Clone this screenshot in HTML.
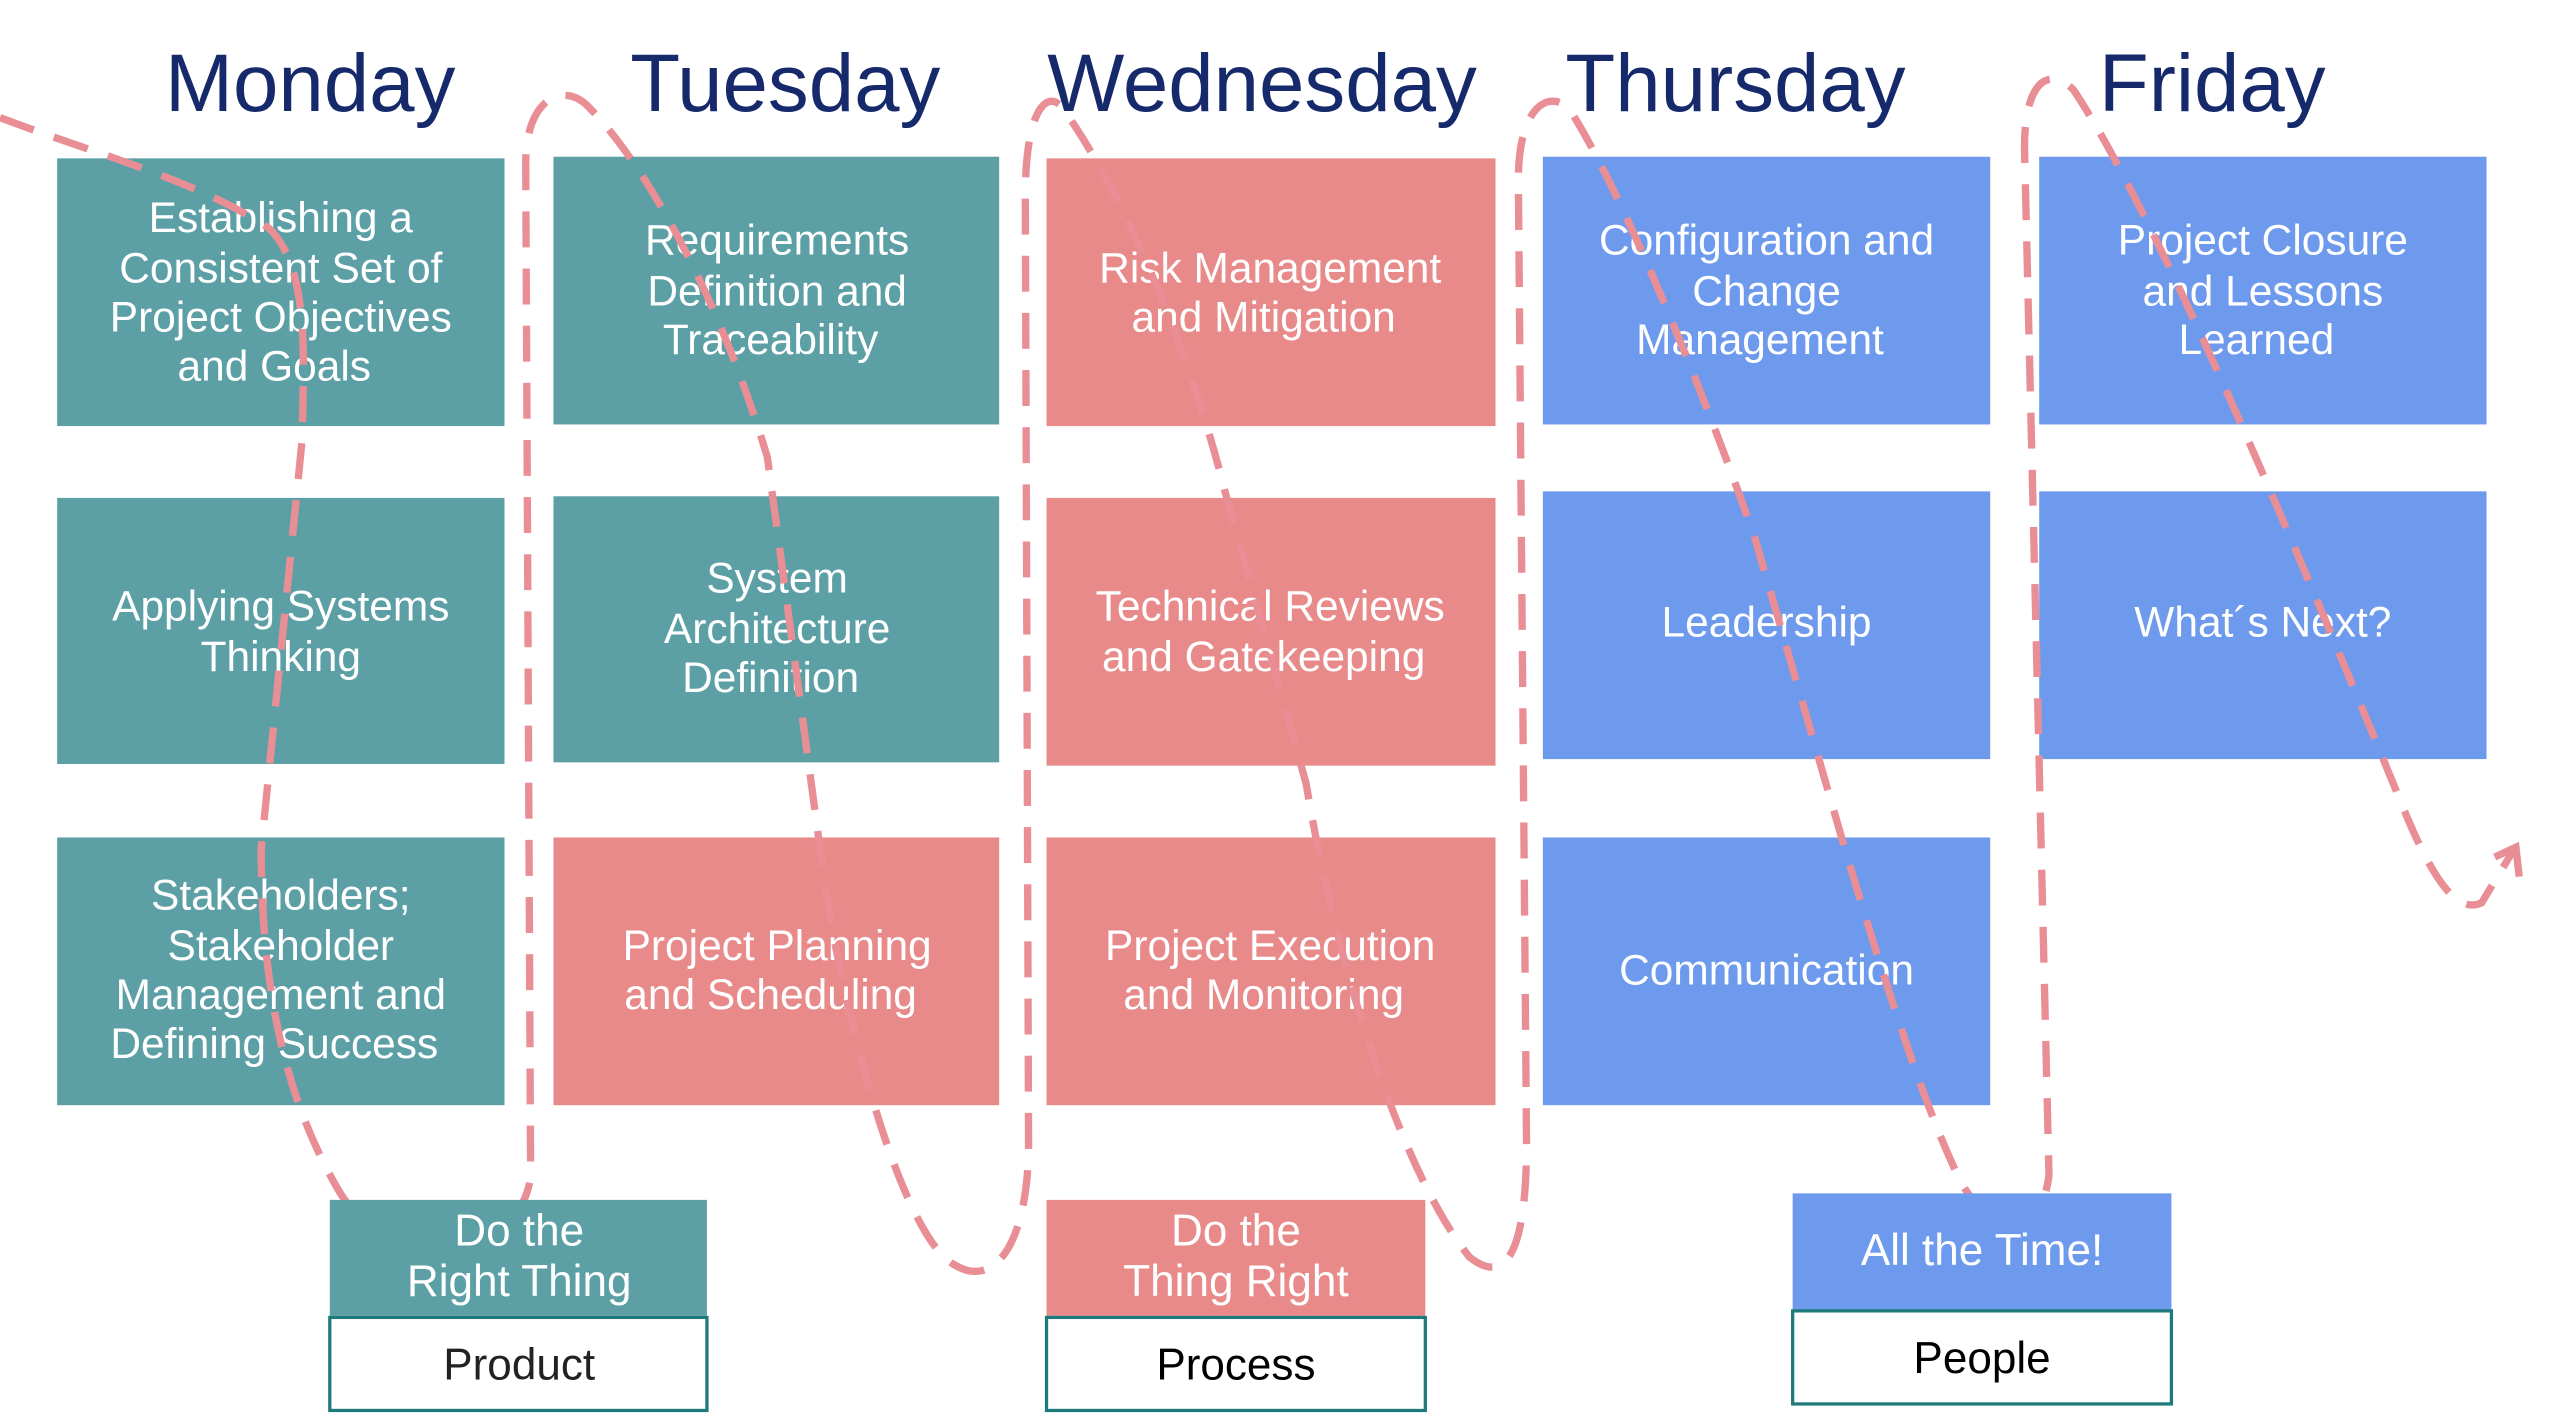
<!DOCTYPE html>
<html><head><meta charset="utf-8"><style>
html,body{margin:0;padding:0;background:#fff;}
svg{display:block;}
text{font-family:"Liberation Sans",sans-serif;}
</style></head><body>
<svg width="2560" height="1417" viewBox="0 0 1568 868" preserveAspectRatio="none" xmlns="http://www.w3.org/2000/svg">
<rect width="1568" height="868" fill="#fff"/>
<g font-size="50" fill="#16296b" text-anchor="middle">
<text x="190" y="68">Monday</text>
<text x="481" y="68">Tuesday</text>
<text x="773" y="68">Wednesday</text>
<text x="1063" y="68">Thursday</text>
<text x="1355" y="68">Friday</text>
</g>
<g>
<rect x="35" y="97" width="274" height="164" fill="#5ca0a6"/>
<rect x="35" y="305" width="274" height="163" fill="#5ca0a6"/>
<rect x="35" y="513" width="274" height="164" fill="#5ca0a6"/>
<rect x="339" y="96" width="273" height="164" fill="#5ca0a6"/>
<rect x="339" y="304" width="273" height="163" fill="#5ca0a6"/>
<rect x="339" y="513" width="273" height="164" fill="#e88a8a"/>
<rect x="641" y="97" width="275" height="164" fill="#e88a8a"/>
<rect x="641" y="305" width="275" height="164" fill="#e88a8a"/>
<rect x="641" y="513" width="275" height="164" fill="#e88a8a"/>
<rect x="945" y="96" width="274" height="164" fill="#6d9aed"/>
<rect x="945" y="301" width="274" height="164" fill="#6d9aed"/>
<rect x="945" y="513" width="274" height="164" fill="#6d9aed"/>
<rect x="1249" y="96" width="274" height="164" fill="#6d9aed"/>
<rect x="1249" y="301" width="274" height="164" fill="#6d9aed"/>
</g>
<g font-size="26" fill="#fff" text-anchor="middle">
<text x="172" y="142">Establishing a</text>
<text x="172" y="173">Consistent Set of</text>
<text x="172" y="203">Project Objectives</text>
<text x="168" y="233">and Goals</text>
<text x="172" y="380">Applying Systems</text>
<text x="172" y="411">Thinking</text>
<text x="172" y="557">Stakeholders;</text>
<text x="172" y="588">Stakeholder</text>
<text x="172" y="618">Management and</text>
<text x="168" y="648">Defining Success</text>
<text x="476" y="156">Requirements</text>
<text x="476" y="187">Definition and</text>
<text x="472" y="217">Traceability</text>
<text x="476" y="363">System</text>
<text x="476" y="394">Architecture</text>
<text x="472" y="424">Definition</text>
<text x="476" y="588">Project Planning</text>
<text x="472" y="618">and Scheduling</text>
<text x="778" y="173">Risk Management</text>
<text x="774" y="203">and Mitigation</text>
<text x="778" y="380">Technical Reviews</text>
<text x="774" y="411">and Gatekeeping</text>
<text x="778" y="588">Project Execution</text>
<text x="774" y="618">and Monitoring</text>
<text x="1082" y="156">Configuration and</text>
<text x="1082" y="187">Change</text>
<text x="1078" y="217">Management</text>
<text x="1082" y="390">Leadership</text>
<text x="1082" y="603">Communication</text>
<text x="1386" y="156">Project Closure</text>
<text x="1386" y="187">and Lessons</text>
<text x="1382" y="217">Learned</text>
<text x="1386" y="390">What´s Next?</text>
</g>
<path d="M0,72 C60,95 120,110 165,140 C190,165 186,220 185,270 L160,520 C160,620 180,680 205,725 C240,790 320,770 325,720 L322,100 C322,60 345,50 360,65 C395,100 440,180 470,280 L505,540 C520,640 555,760 585,775 C610,790 630,760 630,700 L628,120 C628,70 640,55 650,65 C690,120 730,220 750,300 L800,480 C820,600 860,720 900,770 C925,790 935,760 935,700 L930,110 C930,70 945,55 960,65 C990,110 1040,230 1075,330 L1130,520 C1160,620 1180,680 1200,722 C1220,760 1250,760 1255,720 L1240,90 C1240,50 1255,40 1270,55 C1320,130 1400,320 1470,490 C1490,540 1505,560 1520,553 L1540,520" fill="none" stroke="#e98e95" stroke-width="4.5" stroke-dasharray="22 13"/>
<path d="M1528,525 L1541,519 L1543,537" fill="none" stroke="#e98e95" stroke-width="4.5"/>
<g font-size="27" text-anchor="middle">
<rect x="202" y="735" width="231" height="71" fill="#5ca0a6"/>
<text x="318" y="763" fill="#fff">Do the</text>
<text x="318" y="794" fill="#fff">Right Thing</text>
<rect x="202" y="807" width="231" height="57" fill="#fff" stroke="#1e7a7a" stroke-width="2"/>
<text x="318" y="845" fill="#222">Product</text>
<rect x="641" y="735" width="232" height="71" fill="#e88a8a"/>
<text x="757" y="763" fill="#fff">Do the</text>
<text x="757" y="794" fill="#fff">Thing Right</text>
<rect x="641" y="807" width="232" height="57" fill="#fff" stroke="#1e7a7a" stroke-width="2"/>
<text x="757" y="845" fill="#000">Process</text>
<rect x="1098" y="731" width="232" height="72" fill="#6d9aed"/>
<text x="1214" y="775" fill="#fff">All the Time!</text>
<rect x="1098" y="803" width="232" height="57" fill="#fff" stroke="#1e7a7a" stroke-width="2"/>
<text x="1214" y="841" fill="#000">People</text>
</g>
</svg>
</body></html>
